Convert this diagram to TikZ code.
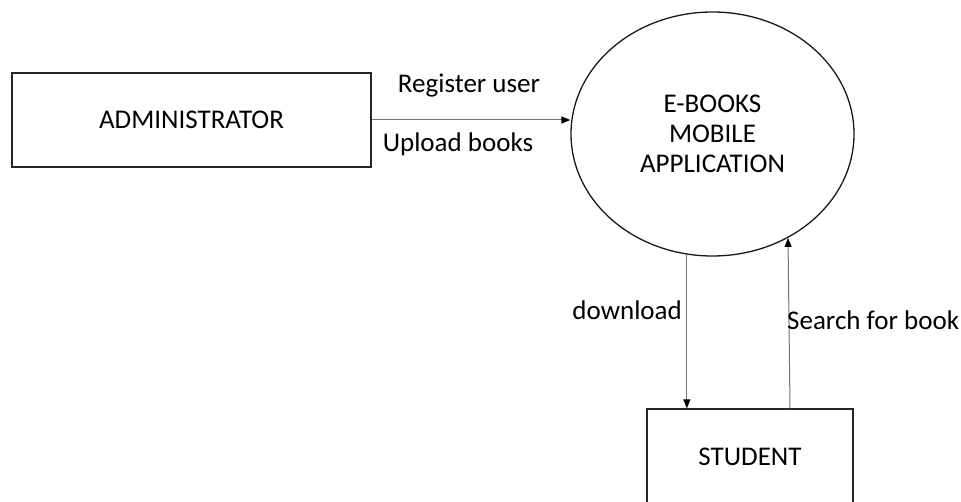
\documentclass[tikz,border=0pt]{standalone}
\usepackage{fontspec}
\setmainfont{Carlito}
\usetikzlibrary{shapes.geometric,arrows.meta}
\tikzset{
  labelfont/.style={font=\fontsize{27}{30}\selectfont},
  entity/.style={draw=black!85, line width=1.3pt, rectangle, inner sep=0pt, labelfont},
  process/.style={draw=black!90, line width=1.3pt, ellipse, inner sep=0pt,
    minimum width=283pt, minimum height=244pt, align=center, labelfont},
  flow/.style={draw=black!55, line width=1pt,
    -{Triangle[length=9pt,width=7pt,fill=black,color=black]}},
  flowlabel/.style={inner sep=0pt, labelfont}
}
\begin{document}
\begin{tikzpicture}[x=1pt,y=-1pt]
  \useasboundingbox (0,0) rectangle (961,502);
  \clip (0,0) rectangle (961,502);

  % external entities and the central process
  \node[entity, minimum width=359pt, minimum height=94pt] (admin) at (191.5,120) {ADMINISTRATOR};
  \node[process] (app) at (712.5,134) {E-BOOKS\\MOBILE\\APPLICATION};
  \node[entity, minimum width=206pt, minimum height=96pt] (student) at (750,457) {STUDENT};

  % data flows
  \draw[flow] (admin.east) -- (admin.east -| app.west);
  \draw[flow] (app.258) -- (app.258 |- student.north);
  \draw[flow] ([xshift=2pt]student.north -| app.306) -- (app.306);

  % flow labels
  \node[flowlabel, anchor=base] (lreg) at (469,93) {Register user};
  \node[flowlabel, anchor=base] (lup) at (458,152) {Upload books};
  \node[flowlabel, anchor=base east] (ldl) at (682,320) {download};
  \node[flowlabel, anchor=base west] (lsearch) at (787,330) {Search for book};
\end{tikzpicture}
\end{document}
